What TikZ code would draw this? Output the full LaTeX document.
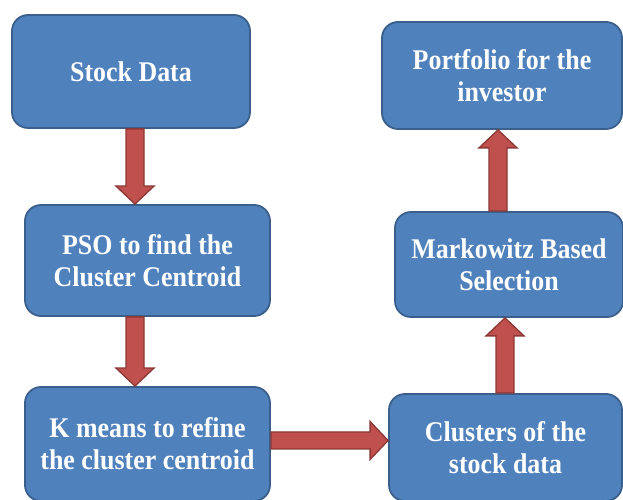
\documentclass[tikz,border=0pt]{standalone}
\usepackage{fontspec}
\setmainfont[FakeStretch=0.91]{Liberation Serif}
\usetikzlibrary{calc}

\definecolor{boxfill}{HTML}{4F81BD}
\definecolor{boxline}{HTML}{3A5F8B}
\definecolor{arrfill}{HTML}{C0504D}
\definecolor{arrline}{HTML}{8C3836}

% vertical block arrow: #1 x position (pt), #2 tail point, #3 tip point, #4 head length offset
\newcommand{\vblockarrow}[4]{%
  \draw[blockarr] let \p1=(#2), \p2=(#3) in
    (#1pt-9pt,\y1) -- (#1pt-9pt,\y2+#4) -- (#1pt-19pt,\y2+#4) -- (#1pt,\y2)
    -- (#1pt+19pt,\y2+#4) -- (#1pt+9pt,\y2+#4) -- (#1pt+9pt,\y1) -- cycle;}
% horizontal block arrow (left to right): #1 y position (pt), #2 tail point, #3 tip point
\newcommand{\hblockarrow}[3]{%
  \draw[blockarr] let \p1=(#2), \p2=(#3) in
    (\x1,#1pt+8.5pt) -- (\x2-18pt,#1pt+8.5pt) -- (\x2-18pt,#1pt+19pt) -- (\x2,#1pt)
    -- (\x2-18pt,#1pt-19pt) -- (\x2-18pt,#1pt-8.5pt) -- (\x1,#1pt-8.5pt) -- cycle;}

\begin{document}
\begin{tikzpicture}[x=1pt,y=1pt,
  stagebox/.style={draw=boxline, fill=boxfill, line width=1.8pt,
    rounded corners=16pt, inner sep=0pt, text=white, align=center,
    font=\bfseries\fontsize{28.5}{32}\selectfont},
  blockarr/.style={draw=arrline, fill=arrfill, line width=1.3pt, line join=miter}]
\useasboundingbox (0,0) rectangle (623,500);
\clip (0,0) rectangle (623,500);

% process stages
\node[stagebox, minimum width=238pt, minimum height=113pt] (b1) at (131,428.5) {Stock Data};
\node[stagebox, minimum width=245pt, minimum height=111pt] (b2) at (147.5,239.5) {PSO to find the\\Cluster Centroid};
\node[stagebox, minimum width=245pt, minimum height=114pt] (b3) at (147.5,56) {K means to refine\\the cluster centroid};
\node[stagebox, minimum width=233pt, minimum height=107pt] (b4) at (505.5,52.5) {Clusters of the\\stock data};
\node[stagebox, minimum width=228pt, minimum height=105pt] (b5) at (509,235.5) {Markowitz Based\\Selection};
\node[stagebox, minimum width=240pt, minimum height=107pt] (b6) at (502,424.5) {Portfolio for the\\investor};

% flow arrows
\vblockarrow{135}{b1.south}{b2.north}{18pt}
\vblockarrow{135}{b2.south}{b3.north}{18pt}
\hblockarrow{59.5}{b3.east}{b4.west}
\vblockarrow{505}{b4.north}{b5.south}{-18pt}
\vblockarrow{498}{b5.north}{b6.south}{-18pt}
\end{tikzpicture}
\end{document}
